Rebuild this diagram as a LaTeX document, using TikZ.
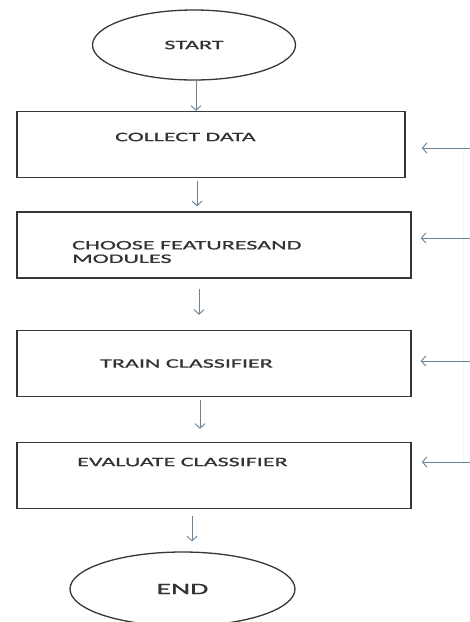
\documentclass[tikz,border=0pt]{standalone}
\usepackage{fontspec}
\newfontfamily\flowfont[FakeStretch=1.85,FakeBold=0.9]{Carlito}
\usetikzlibrary{arrows.meta,shapes.geometric}
\definecolor{boxline}{RGB}{55,55,55}
\definecolor{arrowblue}{RGB}{105,130,150}

\begin{document}
\begin{tikzpicture}[x=1pt,y=-1pt,
    stepbox/.style={draw=boxline,line width=1.5pt,minimum height=66pt,inner sep=0pt},
    boxlabel/.style={anchor=west,inner sep=0pt,align=left,text=black!80,font=\flowfont\fontsize{13}{13.5}\selectfont},
    term/.style={ellipse,draw=boxline,line width=1.3pt,inner sep=0pt,text=black!80},
    flow/.style={draw=arrowblue,line width=0.9pt,-{Straight Barb[length=4.5pt,width=10pt]}}]
    \useasboundingbox[fill=white] (0,0) rectangle (470,622);

    \node[term,minimum width=203pt,minimum height=70pt,font=\flowfont\fontsize{13}{15}\selectfont] (start) at (194,45) {START};
    \node[term,minimum width=225pt,minimum height=74pt,font=\flowfont\fontsize{16}{18}\selectfont] (end) at (182.5,589) {END};

    \node[stepbox,minimum width=388pt] (collect) at (211,144.5) {};
    \node[stepbox,minimum width=394pt] (choose) at (214,245) {};
    \node[stepbox,minimum width=394pt] (train) at (214,363.5) {};
    \node[stepbox,minimum width=394pt] (evaluate) at (214,475.5) {};

    \node[boxlabel] (collecttext) at (115,137) {COLLECT DATA};
    \node[boxlabel] (choosetext) at (72,252) {CHOOSE FEATURESAND\\MODULES};
    \node[boxlabel] (traintext) at (100,363.5) {TRAIN CLASSIFIER};
    \node[boxlabel] (evaluatetext) at (77,462) {EVALUATE CLASSIFIER};

    \draw[flow] ([xshift=2]start.south) -- ([xshift=-15]collect.north);
    \draw[flow,shorten <=3pt,shorten >=5pt] ([xshift=-14]collect.south) -- ([xshift=-17]choose.north);
    \draw[flow,shorten <=10pt,shorten >=15pt] ([xshift=-15]choose.south) -- ([xshift=-15]train.north);
    \draw[flow,shorten <=3pt,shorten >=13pt] ([xshift=-14]train.south) -- ([xshift=-14]evaluate.north);
    \draw[flow,shorten <=7pt,shorten >=10pt] ([xshift=-22]evaluate.south) -- ([xshift=9.5]end.north);

    \coordinate (backtop) at (463,148);
    \coordinate (backbot) at (463,462);
    \draw[black!4,line width=1pt] (backtop) -- (backbot);

    \foreach \b/\y/\g in {collect/148/16,choose/238/9,train/361/9,evaluate/462/10}{
        \draw[flow,shorten >=\g pt] (470,\y) -- (\b.east |- 0,\y);
    }
\end{tikzpicture}
\end{document}
